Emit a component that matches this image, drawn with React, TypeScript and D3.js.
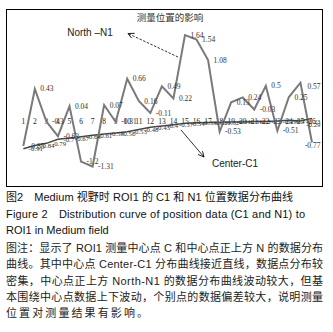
import * as d3 from 'd3';

// category labels along the x axis
const categories = ['1', '2', '3', '4', '5', '6', '7', '8', '9', '10', '11', '12', '13',
  '14', '15', '16', '17', '18', '19', '20', '21', '22', '23', '24', '25', '26'];

// North-N1 (above centre point), wild swings
const northN1 = [-0.85, 0.43, -0.3, -0.63, 0.04, -1.2, -1.31, 0.07, -0.31, 0.66, 0.16, -0.11, 0.49,
  0.22, 1.64, 1.54, 1.08, -0.53, 0.13, 0.24, -0.03, 0.5, -0.51, 0.25, 0.57, -0.77];

// Center-C1, almost a straight line
const centerC1 = [-0.91, -0.84, -0.79, -0.7, -0.67, -0.64, -0.61, -0.58, -0.56, -0.53, -0.48, -0.43, -0.4,
  -0.37, -0.34, -0.33, -0.32, -0.32, -0.31, -0.31, -0.3, -0.3, -0.29, -0.27, -0.29, -0.23];

const captionLines = [
  '图注：显示了 ROI1 测量中心点 C 和中心点正上方 N 的数据分布',
  '曲线。其中中心点 Center-C1 分布曲线接近直线，数据点分布较',
  '密集，中心点正上方 North-N1 的数据分布曲线波动较大，但基',
  '本围绕中心点数据上下波动，个别点的数据偏差较大，说明测量',
  '位置对测量结果有影响。',
];

const W = 333;
const H = 332;

const sans = '"Liberation Sans", Arial, "Noto Sans CJK SC", sans-serif';
const serif = '"Liberation Serif", "Times New Roman", serif';
const cjk = '"Liberation Sans", "Noto Sans CJK SC", sans-serif';

const frame = { x: 6.5, y: 9.5, w: 316, h: 177 };

export default function App() {
  const x = d3.scalePoint<string>().domain(categories).range([23.3, 312]);
  const y = d3.scaleLinear().domain([-1.5, 2]).range([175, 19]);

  const line = d3.line<number>()
    .x((_, i) => x(categories[i]) as number)
    .y(d => y(d));

  const fmt = (v: number) => String(v);
  const zeroY = y(0);
  const rightEdge = frame.x + frame.w - 2;

  // label to the right of the point, pulled back inside the frame when it would spill out
  const labelProps = (v: number, i: number, size: number) => {
    const px = (x(categories[i]) as number) + 5.5;
    const w = fmt(v).length * size * 0.5;
    if (px + w > rightEdge) {
      return { x: rightEdge, y: y(v) + 6, textAnchor: 'end' as const };
    }
    return { x: px, y: y(v) + 2.5, textAnchor: 'start' as const };
  };

  return (
    <svg width={W} height={H} style={{ position: 'absolute', left: 0, top: 0, background: '#fff' }}>
      <defs>
        <marker id="arrowHead" markerWidth={8} markerHeight={8} refX={6} refY={3}
          orient="auto" markerUnits="userSpaceOnUse">
          <path d="M0,0 L6,3 L0,6" fill="none" stroke="#000" strokeWidth={0.8} />
        </marker>
      </defs>

      {/* chart frame */}
      <rect x={frame.x} y={frame.y} width={frame.w} height={frame.h} fill="#fff" stroke="#000" strokeWidth={1} />

      <text x={170} y={21} textAnchor="middle" fontFamily={cjk} fontSize={9.5} fill="#333">
        测量位置的影响
      </text>

      {/* category labels sit just under the zero line */}
      {categories.map(c => (
        <text key={'c' + c} x={x(c)} y={zeroY + 16} textAnchor="middle"
          fontFamily={serif} fontSize={7.5} fill="#222">{c}</text>
      ))}

      <path d={line(centerC1) || ''} fill="none" stroke="#474747" strokeWidth={1.5} />
      <path d={line(northN1) || ''} fill="none" stroke="#7a7a7a" strokeWidth={2} />

      {centerC1.map((v, i) => (
        <text key={'cl' + i} {...labelProps(v, i, 6.8)}
          fontFamily={serif} fontSize={6.8} fill="#333">{fmt(v)}</text>
      ))}
      {northN1.map((v, i) => (
        <text key={'nl' + i} {...labelProps(v, i, 7.5)}
          fontFamily={serif} fontSize={7.5} fill="#333">{fmt(v)}</text>
      ))}

      {/* annotations */}
      <text x={90} y={35.5} textAnchor="middle" fontFamily={sans} fontSize={10} fill="#222">North –N1</text>
      <line x1={178} y1={57} x2={128} y2={33.5} stroke="#000" strokeWidth={0.8}
        strokeDasharray="2.5,1.5" markerEnd="url(#arrowHead)" />

      <text x={235} y={166.5} textAnchor="middle" fontFamily={sans} fontSize={10} fill="#222">Center-C1</text>
      <line x1={181} y1={130} x2={204} y2={157} stroke="#000" strokeWidth={0.8}
        markerEnd="url(#arrowHead)" />

      {/* caption */}
      <text x={6} y={201} fontFamily={cjk} fontSize={11} fill="#111" textLength={287} lengthAdjust="spacing">
        图2　Medium 视野时 ROI1 的 C1 和 N1 位置数据分布曲线
      </text>
      <text x={6} y={218} fontFamily={sans} fontSize={11} fill="#111" textLength={299} lengthAdjust="spacing">
        Figure 2　Distribution curve of position data (C1 and N1) to
      </text>
      <text x={6} y={234} fontFamily={sans} fontSize={11} fill="#111">
        ROI1 in Medium field
      </text>
      {captionLines.map((t, i) => (
        <text key={'cap' + i} x={6} y={252 + i * 16.3} fontFamily={cjk} fontSize={11} fill="#222"
          textLength={i === captionLines.length - 1 ? 142 : 317} lengthAdjust="spacing">
          {t}
        </text>
      ))}
    </svg>
  );
}
